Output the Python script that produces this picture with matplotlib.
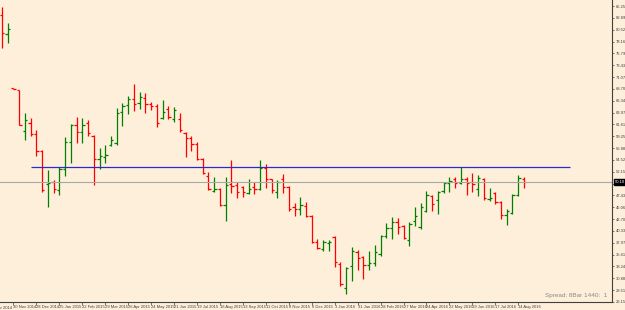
import matplotlib.pyplot as plt

# Weekly OHLC bars, Nov 2014 - Aug 2016
opens = [83.45, 79.66, 68.85, 68.48, 60.29, 61.89, 59.69, 56.30, 49.70, 50.10,
         48.51, 52.70, 58.09, 61.49, 60.09, 61.89, 59.29, 54.70, 55.10, 57.49,
         57.89, 64.08, 65.48, 66.68, 65.88, 66.88, 65.68, 65.28, 62.89, 64.68,
         62.69, 62.69, 59.89, 58.89, 57.69, 54.70, 51.30, 48.31, 48.71, 45.51,
         49.70, 49.51, 49.11, 47.91, 49.11, 48.71, 52.90, 50.70, 48.11, 50.70,
         49.11, 45.11, 44.71, 45.31, 43.31, 38.12, 36.72, 37.92, 39.12, 33.72,
         28.93, 33.32, 36.12, 35.12, 33.52, 33.92, 35.72, 39.32, 40.92, 42.12,
         41.32, 38.52, 42.32, 41.12, 44.31, 47.31, 46.51, 48.31, 49.90, 50.70,
         49.90, 50.70, 50.10, 48.71, 50.70, 46.71, 47.91, 46.11, 43.51, 43.91,
         47.51, 50.70]
highs = [85.05, 81.86, 68.95, 68.55, 63.88, 62.89, 60.49, 56.50, 52.50, 50.50,
         53.10, 59.09, 61.69, 63.09, 62.89, 62.49, 59.49, 56.89, 57.49, 59.29,
         64.88, 65.88, 67.28, 69.68, 68.08, 67.88, 66.08, 65.68, 66.48, 65.28,
         65.08, 63.88, 60.09, 59.29, 58.09, 54.90, 52.10, 51.10, 48.91, 51.10,
         54.50, 50.10, 49.31, 50.71, 50.10, 54.50, 53.70, 50.80, 50.50, 51.70,
         49.31, 45.91, 47.11, 46.11, 43.51, 38.72, 38.52, 38.52, 39.32, 34.12,
         33.12, 37.12, 36.52, 35.32, 36.32, 37.52, 39.52, 41.92, 43.12, 42.92,
         41.52, 42.12, 45.11, 45.91, 48.31, 47.51, 48.31, 50.10, 51.10, 51.10,
         53.10, 51.10, 51.90, 51.50, 50.90, 48.91, 48.11, 46.31, 44.71, 47.71,
         51.50, 51.10]
lows = [76.86, 77.87, 68.65, 61.49, 58.49, 59.29, 55.30, 48.11, 45.11, 47.91,
        47.51, 51.30, 53.90, 57.89, 57.89, 59.29, 49.51, 52.70, 53.90, 57.29,
        57.49, 61.29, 63.68, 64.28, 64.68, 63.88, 64.48, 61.09, 62.69, 62.69,
        62.09, 60.09, 55.10, 56.30, 54.50, 51.70, 48.51, 48.11, 45.31, 42.31,
        47.91, 46.91, 47.11, 47.71, 47.71, 48.51, 48.91, 47.91, 46.91, 47.91,
        44.31, 43.31, 43.51, 43.11, 37.92, 36.72, 36.32, 36.32, 33.12, 29.33,
        27.73, 30.33, 32.52, 30.73, 32.52, 33.32, 35.32, 38.92, 38.72, 39.72,
        38.72, 37.32, 41.32, 40.72, 44.11, 44.31, 43.71, 47.91, 48.11, 48.91,
        49.70, 47.51, 48.11, 47.31, 46.51, 46.31, 45.71, 42.72, 41.52, 43.71,
        47.31, 48.91]
closes = [79.86, 80.66, 68.70, 61.55, 62.49, 59.69, 56.30, 48.51, 49.90, 48.71,
          52.70, 58.09, 61.49, 60.09, 61.49, 59.89, 54.70, 55.30, 55.50, 58.49,
          63.88, 65.28, 66.68, 65.68, 67.08, 65.68, 65.28, 61.89, 64.08, 63.09,
          64.48, 60.49, 58.89, 57.69, 54.70, 51.90, 48.71, 48.71, 45.51, 49.51,
          49.31, 48.11, 48.11, 48.71, 48.71, 52.90, 50.70, 48.51, 50.10, 49.11,
          44.71, 44.71, 45.51, 43.31, 38.12, 36.92, 38.12, 38.12, 34.12, 29.73,
          32.93, 36.32, 34.92, 33.52, 33.92, 36.12, 39.32, 40.92, 42.12, 41.12,
          38.92, 41.72, 43.31, 45.11, 47.51, 45.71, 48.11, 49.90, 50.30, 49.90,
          50.70, 49.90, 49.70, 50.90, 46.91, 46.91, 46.11, 43.51, 44.31, 47.51,
          50.90, 50.10]

date_labels = ['2 Nov 2014', '30 Nov 2014', '28 Dec 2014', '25 Jan 2015', '22 Feb 2015',
               '29 Mar 2015', '26 Apr 2015', '24 May 2015', '21 Jun 2015', '19 Jul 2015',
               '16 Aug 2015', '13 Sep 2015', '11 Oct 2015', '8 Nov 2015', '6 Dec 2015',
               '3 Jan 2016', '31 Jan 2016', '28 Feb 2016', '27 Mar 2016', '24 Apr 2016',
               '22 May 2016', '19 Jun 2016', '17 Jul 2016', '14 Aug 2016']
date_pos = [-2 + 4 * k for k in range(len(date_labels))]

price_ticks = [round(85.25 - k * 2.364, 2) for k in range(26)]
level = 53.10

plt.rcParams['font.family'] = ['Liberation Sans', 'DejaVu Sans']

bg = '#fdefd9'
fig = plt.figure(figsize=(6.25, 3.1), dpi=100, facecolor=bg)
ax = fig.add_axes([0, 8 / 310, 612 / 625, 302 / 310], facecolor=bg)

x = list(range(len(opens)))
cols = ['#008000' if c >= o else '#ff0000' for o, c in zip(opens, closes)]
ax.vlines(x, lows, highs, colors=cols, linewidth=0.9)
ax.hlines(opens, [i - 0.4 for i in x], x, colors=cols, linewidth=0.9)
ax.hlines(closes, x, [i + 0.4 for i in x], colors=cols, linewidth=0.9)

# horizontal level and bid line
ax.hlines(level, 5, 99, colors='#2a2ad0', linewidth=0.9)
ax.axhline(closes[-1], color='#a8a8a8', linewidth=0.8)

for s in ['top', 'left']:
    ax.spines[s].set_visible(False)
ax.spines['right'].set_color('#404040')
ax.spines['bottom'].set_color('#404040')
ax.spines['right'].set_linewidth(0.8)
ax.spines['bottom'].set_linewidth(0.8)

# the tick next to the bid price is hidden behind the price box
bid = closes[-1]
ylabels = ['' if abs(v - bid) < 1.0 else '%.2f' % v for v in price_ticks]
ax.yaxis.tick_right()
ax.set_yticks(price_ticks)
ax.set_yticklabels(ylabels)
ax.tick_params(axis='y', direction='out', length=1.5, width=0.5, pad=1,
               labelsize=3.0, colors='#404040')

# first date label sits left of the window and is cut by the edge
ax.set_xticks(date_pos[1:])
ax.set_xticklabels(date_labels[1:], ha='left')
ax.tick_params(axis='x', direction='out', length=2, width=0.5, pad=0.3,
               labelsize=3.0, colors='#404040')
ax.text(date_pos[0] + 0.05, -0.012, date_labels[0], transform=ax.get_xaxis_transform(),
        fontsize=3.0, color='#404040', ha='left', va='top', clip_on=False)

# limits after ticks, so the ticks do not widen them
ax.set_xlim(-0.35, 106.35)
ax.set_ylim(26.14, 86.45)

# current price label on the axis
ax.text(1.004, (bid - 26.14) / (86.45 - 26.14), '%.2f' % bid,
        transform=ax.transAxes, fontsize=3.0, color='white', va='center', ha='left',
        bbox=dict(boxstyle='square,pad=0.2', fc='black', ec='black'))

ax.text(0.993, 0.012, 'Spread: 8Bar 1440:  1', transform=ax.transAxes,
        fontsize=4.6, color='#8a8a8a', ha='right', va='bottom')

plt.savefig('out.png', dpi=100, facecolor=bg)
